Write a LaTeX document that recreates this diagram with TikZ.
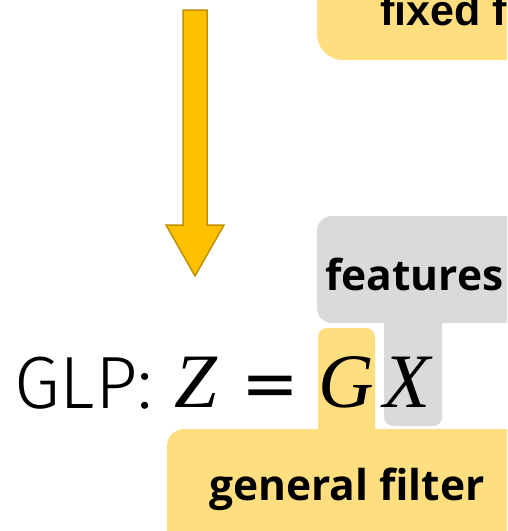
\documentclass[tikz,border=0pt]{standalone}
\usepackage{fontspec}
\setmainfont{Open Sans}
\newfontfamily\symfont{Liberation Serif}
\newfontfamily\lightfont{Fira Sans Light}
\newfontfamily\eqfont{DejaVu Sans}
\newfontfamily\arialfont{Liberation Sans}
\definecolor{hlyellow}{HTML}{FFDE80}
\definecolor{hlgray}{HTML}{DADADA}
\definecolor{arrowfill}{HTML}{FFC000}
\definecolor{arrowedge}{HTML}{BF9000}
\tikzset{
  tag/.style={font=\bfseries\fontsize{42.5}{42.5}\selectfont, text=black, anchor=base west, inner sep=0},
  sym/.style={font=\symfont\itshape\fontsize{77}{77}\selectfont, anchor=base west, inner sep=0},
}
\begin{document}
\begin{tikzpicture}[x=1pt,y=-1pt]
\useasboundingbox (0,0) rectangle (507,531);
\begin{scope}
\clip (0,0) rectangle (507,531);
% label boxes
\fill[hlyellow, rounded corners=26pt] (317,-40) rectangle (540,60);
\fill[hlgray, rounded corners=15pt] (317,216) rectangle (540,323);
\fill[hlgray, rounded corners=9pt] (384,300) rectangle (442,426);
\fill[hlyellow, rounded corners=9pt] (318,328) rectangle (375,445);
\fill[hlyellow, rounded corners=17pt] (167,429) rectangle (540,570);
% labels
\node[tag, font=\arialfont\bfseries\fontsize{43}{43}\selectfont] (fixed) at (380,25) {fixed filter};
\node[tag] (feat) at (325,290) {features};
\node[tag] (gen) at (209,500) {general filter};
\end{scope}
% downward block arrow
\draw[fill=arrowfill, draw=arrowedge, line width=1.5pt, line join=miter]
  (183,10) -- (207,10) -- (207,225) -- (224,225) -- (195,276)
  -- (166,225) -- (183,225) -- cycle;
% formula
\node[font=\lightfont\fontsize{74}{74}\selectfont, anchor=base west, inner sep=0] (glp) at (14,408) {GLP:};
\node[sym] (z) at (174,407) {Z};
\node[font=\eqfont\fontsize{69}{69}\selectfont, anchor=base west, inner sep=0] (eq) at (241,407) {=};
\node[sym] (g) at (318,407) {G};
\node[sym] (x) at (383,407) {X};
\end{tikzpicture}
\end{document}
